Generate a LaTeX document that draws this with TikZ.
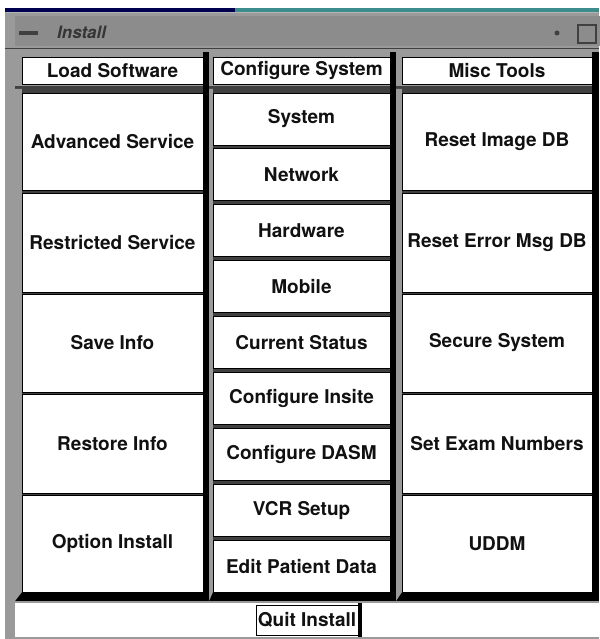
\documentclass[tikz,border=0pt]{standalone}
\usepackage{fontspec}
\setmainfont{TeX Gyre Heros}
\definecolor{frame}{HTML}{9A9A9A}
\definecolor{titleg}{HTML}{8C8C8C}
\definecolor{navy}{HTML}{000050}
\definecolor{teal2}{HTML}{3C8C8C}
\definecolor{ink}{HTML}{111111}
\definecolor{lite}{HTML}{B4B4B4}
\definecolor{sep}{HTML}{404040}
\begin{document}
\begin{tikzpicture}[x=1pt,y=-1pt,
  btn/.style={draw=black, line width=0.9pt, fill=white, text=ink, inner sep=0pt, outer sep=0pt, anchor=north west,
    font=\bfseries\fontsize{19}{21}\selectfont},
  hdr/.style={btn, minimum height=27pt},
  lbtn/.style={btn, minimum width=181pt},
  mbtn/.style={btn, minimum width=177pt, minimum height=52pt},
  rbtn/.style={btn, minimum width=190pt},
  ttl/.style={text=ink!85, inner sep=0pt, font=\bfseries\itshape\fontsize{17}{19}\selectfont, anchor=west}]
\useasboundingbox (0,0) rectangle (599,639);
\fill[white] (0,0) rectangle (599,639);
% desktop strip
\fill[navy] (5,8) rectangle (235,12);
\fill[teal2] (235,8) rectangle (599,12);
% window frame
\fill[frame] (5,12) rectangle (599,639);
\draw[lite, line width=1pt] (6,13) -- (598,13);
% title bar
\fill[titleg] (15,17) rectangle (599,46);
\draw[sep!60, line width=1pt] (15,17) rectangle (599,46);
\draw[sep!60, line width=1pt] (42,17) -- (42,46);
\draw[sep!60, line width=1pt] (545,17) -- (545,46);
\draw[sep!60, line width=1pt] (572,17) -- (572,46);
\fill[sep] (19,31) rectangle (38,35);
\fill[sep] (557,33) circle (2.5);
\draw[sep, line width=1.2pt] (578,25) rectangle (596,43);
\node[ttl] (title) at (57,32) {Install};
\draw[sep, line width=1pt] (5,49) -- (599,49);
% column shadows
\fill[black] (15,88) rectangle (599,601);
\fill[black] (203,52) rectangle (209,88);
\fill[black] (390,52) rectangle (396,88);
\fill[black] (592,52) rectangle (599,88);
\fill[sep] (15,86) rectangle (203,89);
\fill[sep] (209,86) rectangle (390,89);
\fill[sep] (396,86) rectangle (592,89);
% bevel light strips
\fill[frame] (15,89) -- (22,89) -- (22,592) -- (15,601) -- cycle;
\fill[frame] (209,89) -- (213,89) -- (213,592) -- (209,601) -- cycle;
\fill[frame] (396,89) -- (402,89) -- (402,592) -- (396,601) -- cycle;
\fill[sep] (22,89) rectangle (203,592);
\fill[sep] (213,89) rectangle (390,592);
\fill[sep] (402,89) rectangle (592,592);
% headers
\node[hdr, minimum width=181pt] (load) at (22,57) {Load Software};
\node[hdr, minimum width=177pt] (conf) at (213,57) {Configure System};
\node[hdr, minimum width=190pt] (misc) at (402,57) {Misc Tools};
% left column
\node[lbtn, minimum height=97pt] (adv) at (22,93) {Advanced Service};
\node[lbtn, minimum height=99pt] (res) at (22,193) {Restricted Service};
\node[lbtn, minimum height=98pt] (save) at (22,294) {Save Info};
\node[lbtn, minimum height=99pt] (rest) at (22,394) {Restore Info};
\node[lbtn, minimum height=97pt] (opt) at (22,495) {Option Install};
% middle column
\node[mbtn] (sys) at (213,93) {System};
\node[mbtn] (net) at (213,148.9) {Network};
\node[mbtn] (hw) at (213,204.8) {Hardware};
\node[mbtn] (mob) at (213,260.7) {Mobile};
\node[mbtn] (cur) at (213,316.6) {Current Status};
\node[mbtn] (ins) at (213,372.5) {Configure Insite};
\node[mbtn] (dasm) at (213,428.4) {Configure DASM};
\node[mbtn] (vcr) at (213,484.3) {VCR Setup};
\node[mbtn] (edit) at (213,540.2) {Edit Patient Data};
% right column
\node[rbtn, minimum height=97pt] (rimg) at (402,93) {Reset Image DB};
\node[rbtn, minimum height=99pt] (rerr) at (402,193) {Reset Error Msg DB};
\node[rbtn, minimum height=98pt] (sec) at (402,294) {Secure System};
\node[rbtn, minimum height=99pt] (exam) at (402,394) {Set Exam Numbers};
\node[rbtn, minimum height=97pt] (uddm) at (402,495) {UDDM};
% bottom
\fill[white] (15,603) rectangle (599,637);
\fill[black] (358,603) rectangle (362,637);
\node[btn, minimum width=102pt, minimum height=30pt] (quit) at (256,605) {Quit Install};
\end{tikzpicture}
\end{document}
